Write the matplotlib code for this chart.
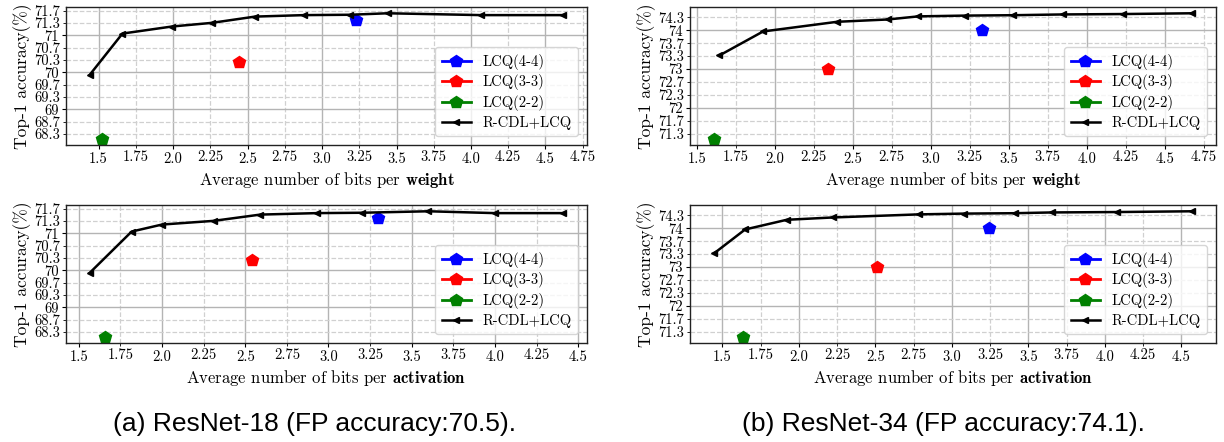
import matplotlib
matplotlib.use('Agg')
import matplotlib.pyplot as plt
from matplotlib.ticker import MultipleLocator, FuncFormatter, FormatStrFormatter

plt.rcParams['font.family'] = 'serif'
plt.rcParams['font.serif'] = ['cmr10']
plt.rcParams['mathtext.fontset'] = 'cm'
plt.rcParams['axes.formatter.use_mathtext'] = True

# ---- data ----
lcq_labels = ['LCQ(4-4)', 'LCQ(3-3)', 'LCQ(2-2)']
lcq_colors = ['blue', 'red', 'green']

# ResNet-18
r18_acc = [69.93, 71.05, 71.24, 71.34, 71.51, 71.55, 71.56, 71.60, 71.55, 71.55]
r18_w_bits = [1.44, 1.66, 1.99, 2.26, 2.55, 2.88, 3.19, 3.44, 4.07, 4.62]
r18_a_bits = [1.566, 1.818, 2.0, 2.31, 2.59, 2.93, 3.20, 3.60, 4.0, 4.41]
r18_lcq_acc = [71.42, 70.29, 68.2]
r18_lcq_w_bits = [3.23, 2.44, 1.52]
r18_lcq_a_bits = [3.30, 2.54, 1.66]

# ResNet-34
r34_acc = [73.35, 73.97, 74.22, 74.28, 74.36, 74.38, 74.39, 74.41, 74.42, 74.44]
r34_w_bits = [1.645, 1.925, 2.40, 2.725, 2.92, 3.22, 3.53, 3.85, 4.23, 4.675]
r34_a_bits = [1.444, 1.648, 1.92, 2.22, 2.785, 3.08, 3.41, 3.655, 4.08, 4.57]
r34_lcq_acc = [74.0, 73.0, 71.2]
r34_lcq_w_bits = [3.33, 2.34, 1.61]
r34_lcq_a_bits = [3.24, 2.51, 1.635]

W, H = 1224, 442
fig = plt.figure(figsize=(12.24, 4.42), dpi=100)


def px_axes(left, top, right, bottom):
    return fig.add_axes([left / W, 1 - bottom / H, (right - left) / W, (bottom - top) / H])


def panel(ax, bits, acc, lcq_bits, lcq_acc, what):
    for b, a, lab, c in zip(lcq_bits, lcq_acc, lcq_labels, lcq_colors):
        ax.plot([b], [a], marker='p', color=c, markersize=9, linewidth=2, label=lab)
    ax.plot(bits, acc, marker='<', color='black', markersize=5, linewidth=1.8, label='R-CDL+LCQ')

    ax.xaxis.set_major_locator(MultipleLocator(0.5))
    ax.xaxis.set_minor_locator(MultipleLocator(0.25))
    ax.xaxis.set_major_formatter(FormatStrFormatter('%.1f'))
    ax.xaxis.set_minor_formatter(FormatStrFormatter('%.2f'))
    ax.yaxis.set_major_locator(MultipleLocator(1))
    ax.yaxis.set_minor_locator(MultipleLocator(1 / 3))
    yfmt = FuncFormatter(lambda v, p: '%g' % round(v, 1))
    ax.yaxis.set_major_formatter(yfmt)
    ax.yaxis.set_minor_formatter(yfmt)
    ax.tick_params(which='both', labelsize=10.5, length=3, pad=2)
    ax.tick_params(which='minor', length=2)

    ax.grid(which='major', color='#b4b4b4', linestyle='-', linewidth=1.0)
    ax.grid(which='minor', color='#d0d0d0', linestyle='--', linewidth=0.9)
    ax.set_axisbelow(True)
    for s in ax.spines.values():
        s.set_color('#222222')
        s.set_linewidth(1.0)

    ax.set_xlabel('Average number of bits per $\\mathbf{%s}$' % what, fontsize=12, labelpad=3)
    ax.set_ylabel('Top-1 accuracy(%)', fontsize=12.5, labelpad=2)
    ax.legend(loc='lower right', fontsize=10.5, framealpha=0.8, borderpad=0.45,
              labelspacing=0.32, handletextpad=0.8, borderaxespad=0.6)


ax1 = px_axes(66, 7, 587, 145)
panel(ax1, r18_w_bits, r18_acc, r18_lcq_w_bits, r18_lcq_acc, 'weight')
ax2 = px_axes(66, 205, 587, 343)
panel(ax2, r18_a_bits, r18_acc, r18_lcq_a_bits, r18_lcq_acc, 'activation')
ax3 = px_axes(690, 7, 1216, 145)
panel(ax3, r34_w_bits, r34_acc, r34_lcq_w_bits, r34_lcq_acc, 'weight')
ax4 = px_axes(690, 205, 1216, 343)
panel(ax4, r34_a_bits, r34_acc, r34_lcq_a_bits, r34_lcq_acc, 'activation')

fig.text(315 / W, 1 - 431 / H, '(a) ResNet-18 (FP accuracy:70.5).', ha='center', va='baseline',
         fontsize=19, family='Liberation Sans')
fig.text(943 / W, 1 - 431 / H, '(b) ResNet-34 (FP accuracy:74.1).', ha='center', va='baseline',
         fontsize=19, family='Liberation Sans')

fig.savefig('out.png', dpi=100)
